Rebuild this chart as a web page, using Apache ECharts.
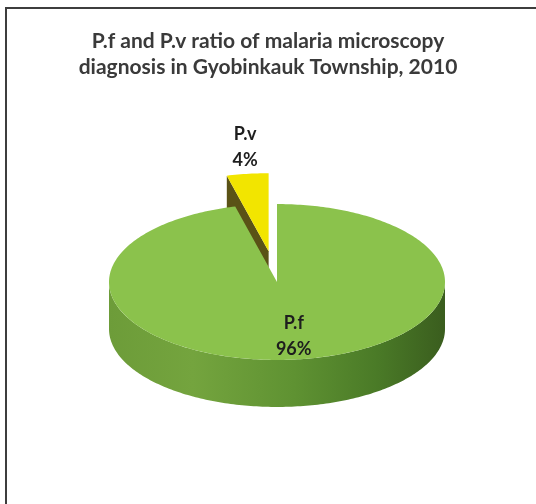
<!DOCTYPE html>
<html>
<head>
<meta charset="utf-8">
<script src="https://cdn.jsdelivr.net/npm/echarts@6.0.0/dist/echarts.min.js"></script>
<style>
  html, body { margin: 0; padding: 0; background: #fff; }
  #frame {
    position: absolute; left: 5px; top: 7px; width: 540px; height: 510px;
    border-left: 2px solid #3d3d3d; border-top: 2px solid #3d3d3d;
  }
  #chart { position: absolute; left: 0; top: 0; width: 536px; height: 504px; }
</style>
</head>
<body>
<div id="frame"></div>
<div id="chart"></div>
<script>
// data
const categories = ["P.f", "P.v"];
const values = [96, 4];
const titleLines = [
  "P.f and P.v ratio of malaria microscopy",
  "diagnosis in Gyobinkauk Township, 2010",
];

// pseudo 3D pie geometry
const CX = 277;
const CY = 282;
const R = 168;
const SY = 0.464;   // vertical squash of the disc
const H = 47;       // thickness of the disc
const EXPLODE = { "P.v": 67 };

const TOP_COLORS = ["#8bc24c", "#f2e500"];
const CUT_COLORS = ["#5e8e30", "#5a5216"];

const total = values.reduce((a, b) => a + b, 0);
const starts = [];
values.reduce((acc, v, i) => {
  starts[i] = acc;
  return acc + v;
}, 0);

function sideGradient() {
  return new echarts.graphic.LinearGradient(0, 0, 1, 0, [
    { offset: 0, color: "#6d9c39" },
    { offset: 0.25, color: "#74a43e" },
    { offset: 0.55, color: "#5f9232" },
    { offset: 0.8, color: "#4a7a27" },
    { offset: 1, color: "#3a5d1e" },
  ]);
}

function renderItem(params, api) {
  const i = params.dataIndex;
  const name = categories[i];
  const v = api.value(0);
  const a0 = (starts[i] / total) * Math.PI * 2;
  const a1 = ((starts[i] + v) / total) * Math.PI * 2;
  const mid = (a0 + a1) / 2;
  const off = EXPLODE[name] || 0;
  const cx = CX + off * Math.sin(mid);
  const cy = CY - off * Math.cos(mid) * SY;

  const pt = (t, dz, r) => [cx + (r || R) * Math.sin(t), cy - (r || R) * Math.cos(t) * SY + dz];
  const arc = (from, to, dz) => {
    const n = Math.max(2, Math.ceil(((to - from) * 180) / Math.PI));
    const pts = [];
    for (let k = 0; k <= n; k++) pts.push(pt(from + ((to - from) * k) / n, dz));
    return pts;
  };

  const base = off > 0 ? 0 : 10;
  const children = [];

  // outer wall, front half only
  const s0 = Math.max(a0, Math.PI / 2);
  const s1 = Math.min(a1, (Math.PI * 3) / 2);
  if (s1 > s0) {
    children.push({
      type: "polygon",
      z2: base + 1,
      shape: { points: arc(s0, s1, 0).concat(arc(s0, s1, H).reverse()) },
      style: { fill: sideGradient() },
    });
  }
  // cut faces that turn toward the viewer
  if (Math.sin(a0) < -1e-6) {
    children.push({
      type: "polygon",
      z2: base + 1,
      shape: { points: [[cx, cy], pt(a0, 0), pt(a0, H), [cx, cy + H]] },
      style: { fill: CUT_COLORS[i] },
    });
  }
  if (Math.sin(a1) > 1e-6) {
    children.push({
      type: "polygon",
      z2: base + 1,
      shape: { points: [[cx, cy], pt(a1, 0), pt(a1, H), [cx, cy + H]] },
      style: { fill: CUT_COLORS[i] },
    });
  }
  // top face
  children.push({
    type: "polygon",
    z2: base + 2,
    shape: { points: [[cx, cy]].concat(arc(a0, a1, 0)) },
    style: { fill: TOP_COLORS[i] },
  });

  // label
  const inside = v / total >= 0.1;
  const lp = pt(mid, 0, inside ? R * 0.7 : R * 1.35);
  children.push({
    type: "text",
    z2: 100,
    style: {
      text: name + "\n" + Math.round((v / total) * 100) + "%",
      x: lp[0] + (inside ? 2 : 5),
      y: lp[1],
      align: "center",
      verticalAlign: "middle",
      fontSize: 18,
      fontWeight: "bold",
      fontFamily: "Lato",
      lineHeight: 26,
      fill: "#1e1e1e",
    },
  });

  return { type: "group", children: children };
}

const chart = echarts.init(document.getElementById("chart"), null, { renderer: "canvas" });
chart.setOption({
  animation: false,
  title: {
    text: titleLines.join("\n"),
    left: "center",
    top: 23,
    textStyle: {
      fontFamily: "Lato",
      fontSize: 21,
      fontWeight: "bold",
      lineHeight: 26,
      color: "#3a3a3a",
    },
  },
  series: [
    {
      type: "custom",
      coordinateSystem: "none",
      renderItem: renderItem,
      data: values.map((v, i) => ({ name: categories[i], value: [v] })),
    },
  ],
});
</script>
</body>
</html>
